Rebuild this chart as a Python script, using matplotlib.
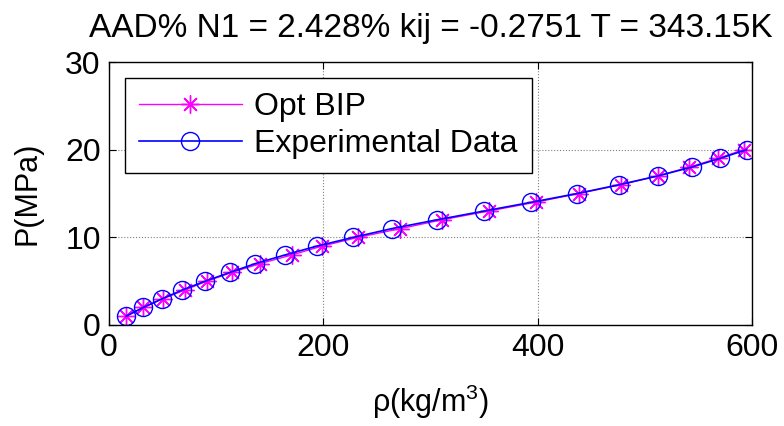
import numpy as np
import matplotlib.pyplot as plt

plt.rcParams['font.family'] = ['Liberation Sans', 'DejaVu Sans']
plt.rcParams['mathtext.fontset'] = 'custom'
plt.rcParams['mathtext.rm'] = 'Liberation Sans'

# Pressures (MPa)
P = np.arange(1, 21)

# Experimental densities (kg/m3)
rho_exp = [15.9, 32, 49.8, 68.5, 89.7, 113, 136.4, 164.5, 194, 228,
           264, 306, 350, 394, 437, 476, 512, 543.6, 570, 595]

# Model densities with optimised BIP (kg/m3)
rho_opt = [15.9, 31.8, 50.5, 71, 91.3, 114.7, 141, 170.8, 198.8, 232.7,
           272, 310.9, 354.2, 398, 438.3, 477.6, 511.9, 541.1, 567.9, 592.5]

fig = plt.figure(figsize=(7.84, 4.26), dpi=100)
ax = fig.add_axes([109/784, 1-325/426, 643/784, 263/426])

ax.plot(rho_opt, P, '-', marker=(8, 2, 0), color='magenta', lw=1, ms=13,
        mew=1, label='Opt BIP')
ax.plot(rho_exp, P, '-o', color='blue', lw=1.2, ms=13, mew=1, mfc='none',
        label='Experimental Data')

ax.set_xlim(0, 600)
ax.set_ylim(0, 30)
ax.set_xticks([0, 200, 400, 600])
ax.set_yticks([0, 10, 20, 30])
ax.grid(True, ls=':', color='gray', lw=0.8)
ax.tick_params(direction='in', top=True, right=True, labelsize=23, length=5,
               pad=6)
for s in ax.spines.values():
    s.set_linewidth(1)

ax.set_xlabel('\u03c1(kg/m$^3$)', fontsize=22, labelpad=14)
ax.set_ylabel('P(MPa)', fontsize=22, labelpad=16)
ax.set_title('AAD% N1 = 2.428% kij = -0.2751 T = 343.15K', fontsize=24, pad=18)

leg = ax.legend(loc='upper left', fontsize=23, fancybox=False,
                edgecolor='black', framealpha=1, handlelength=3.2,
                handletextpad=0.4, borderaxespad=0.5, borderpad=0.45,
                labelspacing=0.2)
leg.get_frame().set_linewidth(1)

fig.savefig('out.png', dpi=100)
